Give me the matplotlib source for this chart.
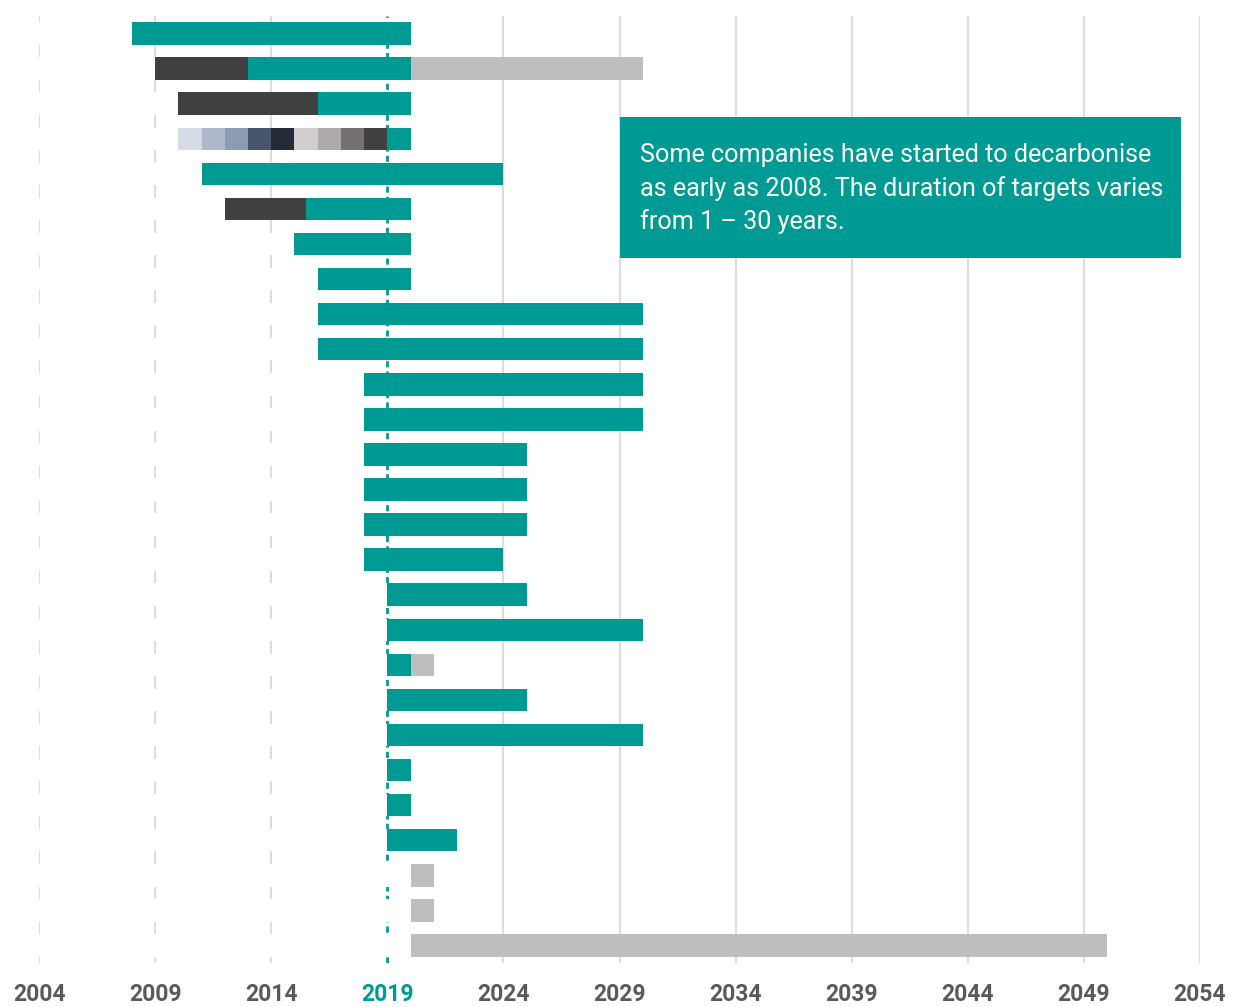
import matplotlib
matplotlib.use("Agg")
import matplotlib.pyplot as plt
from matplotlib.patches import Rectangle

# Decarbonisation timelines, one row per company (top to bottom)
start_year = [2008, 2009, 2010, 2010, 2011, 2012, 2015, 2016, 2016, 2016,
              2018, 2018, 2018, 2018, 2018, 2018, 2019, 2019, 2019, 2019,
              2019, 2019, 2019, 2019, 2020, 2020, 2020]
# years of earlier (completed) targets
past_years = [0, 4, 6, 0, 0, 3.5, 0, 0, 0, 0,
              0, 0, 0, 0, 0, 0, 0, 0, 0, 0,
              0, 0, 0, 0, 0, 0, 0]
# years of the current target
target_years = [12, 7, 4, 1, 13, 4.5, 5, 4, 14, 14,
                12, 12, 7, 7, 7, 6, 6, 11, 1, 6,
                11, 1, 1, 3, 0, 0, 0]
# years announced beyond the current target
future_years = [0, 10, 0, 0, 0, 0, 0, 0, 0, 0,
                0, 0, 0, 0, 0, 0, 0, 0, 1, 0,
                0, 0, 0, 0, 1, 1, 30]

# one company with a new annual target every year 2010-2018
annual_row = 3
annual_colors = ["#d5dce6", "#adb8cb", "#8a9bb3", "#47556d", "#242a36",
                 "#d0cece", "#afaaa9", "#757170", "#404040"]

ticks = list(range(2004, 2055, 5))
note_lines = ["Some companies have started to decarbonise",
              "as early as 2008. The duration of targets varies",
              "from 1 \u2013 30 years."]

TEAL = "#009a94"
DARK = "#404040"
GREY = "#bebebe"
GRID = "#dddddd"

plt.rcParams["font.family"] = ["Roboto", "DejaVu Sans"]

fig = plt.figure(figsize=(12.37, 10.07), dpi=100)
ax = fig.add_axes([39 / 1237, 44 / 1007, 1161 / 1237, 947 / 1007])

rows = range(len(start_year))
h = 0.64

# vertical year lines, partly hidden by the white offset bars
for t in ticks:
    if t == 2019:
        continue
    ax.axvline(t, color=GRID, lw=1.5, zorder=1)
ax.axvline(2019, color=TEAL, lw=2.0, ls=(0, (2.2, 1.5)), zorder=1)

for i in rows:
    s = start_year[i]
    ax.barh(i, s - 2004, left=2004, height=h, color="white", lw=0, zorder=2)
    x = s
    if i == annual_row:
        for c in annual_colors:
            ax.barh(i, 1, left=x, height=h, color=c, lw=0, zorder=3)
            x += 1
    if past_years[i]:
        ax.barh(i, past_years[i], left=x, height=h, color=DARK, lw=0, zorder=3)
        x += past_years[i]
    if target_years[i]:
        ax.barh(i, target_years[i], left=x, height=h, color=TEAL, lw=0, zorder=3)
        x += target_years[i]
    if future_years[i]:
        ax.barh(i, future_years[i], left=x, height=h, color=GREY, lw=0, zorder=3)

ax.set_xlim(2004, 2054)
ax.set_ylim(len(start_year) - 0.5, -0.5)
ax.set_yticks([])
ax.set_xticks(ticks)
ax.set_xticklabels([str(t) for t in ticks], fontsize=16.5, fontweight="bold",
                   color="#5a5a5a")
ax.get_xticklabels()[ticks.index(2019)].set_color(TEAL)
ax.tick_params(axis="x", length=0, pad=14.5)
for sp in ax.spines.values():
    sp.set_visible(False)

# note box
ax.add_patch(Rectangle((2029.02, 2.39), 24.16, 4.0, facecolor=TEAL,
                       edgecolor="none", zorder=5, clip_on=False))
for k, line in enumerate(note_lines):
    ax.text(2029.88, 3.66 + 0.96 * k, line, color="white", fontsize=18.1,
            va="baseline", ha="left", zorder=6)

fig.savefig("out.png", dpi=100)
